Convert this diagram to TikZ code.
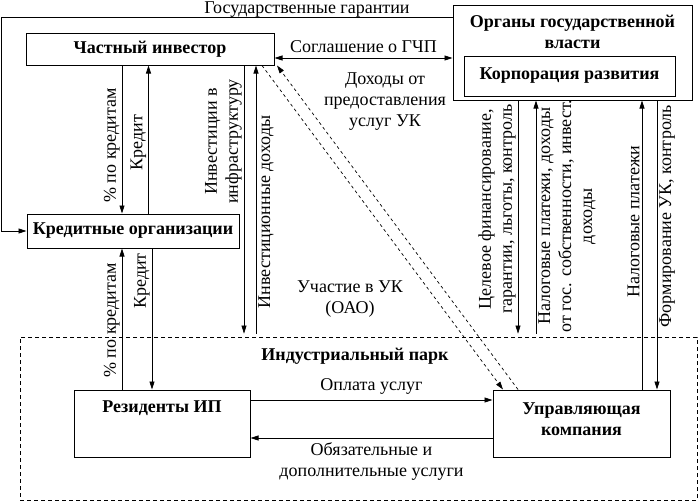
\documentclass[tikz,border=0pt]{standalone}
\usepackage{fontspec}
\setmainfont{Liberation Serif}
\newfontfamily\tnr{Liberation Serif}
\usetikzlibrary{positioning,arrows.meta,calc}

\begin{document}
\begin{tikzpicture}[
    x=1pt, y=-1pt,
    every node/.style={font=\tnr\fontsize{18}{21}\selectfont},
    box/.style={draw, line width=1pt, inner sep=0pt},
    title/.style={font=\tnr\fontsize{18}{21}\selectfont\bfseries, align=center},
    vlab/.style={rotate=90, align=center, inner sep=2pt},
    park/.style={draw, dash pattern=on 4pt off 3pt, line width=0.8pt},
    >={Triangle[length=8pt,width=5pt]}, line width=0.7pt
]
  \useasboundingbox (0,0) rectangle (700,501);

  % boxes
  \node[box, title, minimum width=248pt, minimum height=32pt] (inv) at (150,49) {Частный инвестор};
  \node[box, minimum width=239pt, minimum height=95pt] (gov) at (572.5,52.5) {};
  \node[title, below=7pt of gov.north] (govname) {Органы государственной\\власти};
  \node[box, title, minimum width=211pt, minimum height=40pt] (corp) at (569.5,76) {Корпорация развития};
  \node[box, title, minimum width=212pt, minimum height=34pt] (cred) at (133,231) {Кредитные организации};
  \node[park, minimum width=677pt, minimum height=163pt] (ip) at (358.5,418.5) {};
  \node[title] (ipname) at (355,356) {Индустриальный парк};
  \node[box, minimum width=176pt, minimum height=67pt] (res) at (162,423.5) {};
  \node[title, below=8pt of res.north] (resname) {Резиденты ИП};
  \node[box, minimum width=177pt, minimum height=67pt] (uk) at (581.5,423.5) {};
  \node[title] (ukname) at (581.5,419) {Управляющая\\компания};

  % helper rows and columns
  \coordinate (xl) at (1,0);
  \coordinate (xa) at (122,0);
  \coordinate (xb) at (148.5,0);
  \coordinate (xc) at (152,0);
  \coordinate (xd) at (244,0);
  \coordinate (xe) at (256,0);
  \coordinate (xf) at (518,0);
  \coordinate (xg) at (536,0);
  \coordinate (xh) at (642,0);
  \coordinate (xi) at (657,0);
  \coordinate (yg) at (0,17);
  \coordinate (yc) at (0,58);
  \coordinate (ya) at (0,400);
  \coordinate (yb) at (0,438);

  % top links
  \node[anchor=base] (tguar) at (307,13.5) {Государственные гарантии};
  \draw[->] (gov.west |- yg) -| (xl |- cred.west) -- (cred.west);
  \draw[<->] (inv.east |- yc) -- (gov.west |- yc)
    node[midway, above=2pt] (tagr) {Соглашение о ГЧП};

  % investor -- credit -- residents
  \draw[->] (inv.south -| xa) -- (cred.north -| xa)
    node[vlab, anchor=south, pos=0.54] (l1) {\% по кредитам};
  \draw[->] (cred.north -| xb) -- (inv.south -| xb)
    node[vlab, anchor=south, pos=0.48] (l2) {Кредит};
  \draw[->] (res.north -| xa) -- (cred.south -| xa)
    node[vlab, anchor=south, pos=0.49] (l5) {\% по кредитам};
  \draw[->] (cred.south -| xc) -- (res.north -| xc)
    node[vlab, anchor=south, pos=0.23] (l6) {Кредит};

  % investor -- park
  \draw[->, shorten >=3pt] (inv.south -| xd) -- (ip.north -| xd)
    node[vlab, anchor=south, pos=0.28] (l3) {Инвестиции в\\инфраструктуру};
  \draw[->, shorten <=3pt] (ip.north -| xe) -- (inv.south -| xe)
    node[vlab, anchor=north, pos=0.46] (l4) {Инвестиционные доходы};

  % investor -- management company
  \draw[->, dashed] ([xshift=112pt]inv.south) -- ([xshift=-78.5pt]uk.north);
  \draw[->, dashed] ([xshift=-63.5pt]uk.north) -- ([xshift=127pt]inv.south);
  \node[align=center] (tpart) at (350,299) {Участие в УК\\(ОАО)};
  \node[align=center] (tinc) at (385,102) {Доходы от\\предоставления\\услуг УК};

  % government -- park
  \draw[->, shorten >=3pt] (gov.south -| xf) -- (ip.north -| xf)
    node[vlab, anchor=south, pos=0.46] (l7) {Целевое финансирование,\\гарантии, льготы, контроль};
  \draw[->, shorten <=3pt] (ip.north -| xg) -- (gov.south -| xg)
    node[vlab, anchor=north, pos=0.51] (l8) {Налоговые платежи, доходы\\от гос. собственности, инвест.\\доходы};
  \draw[->] (uk.north -| xh) -- (gov.south -| xh)
    node[vlab, anchor=south, pos=0.58] (l9) {Налоговые платежи};
  \draw[->] (gov.south -| xi) -- (uk.north -| xi)
    node[vlab, anchor=north, pos=0.40] (l10) {Формирование УК, контроль};

  % inside the park
  \draw[->] (res.east |- ya) -- (uk.west |- ya)
    node[midway, above=2pt] (tpay) {Оплата услуг};
  \draw[->] (uk.west |- yb) -- (res.east |- yb)
    node[midway, below=1pt, align=center] (tserv) {Обязательные и\\дополнительные услуги};
\end{tikzpicture}
\end{document}
